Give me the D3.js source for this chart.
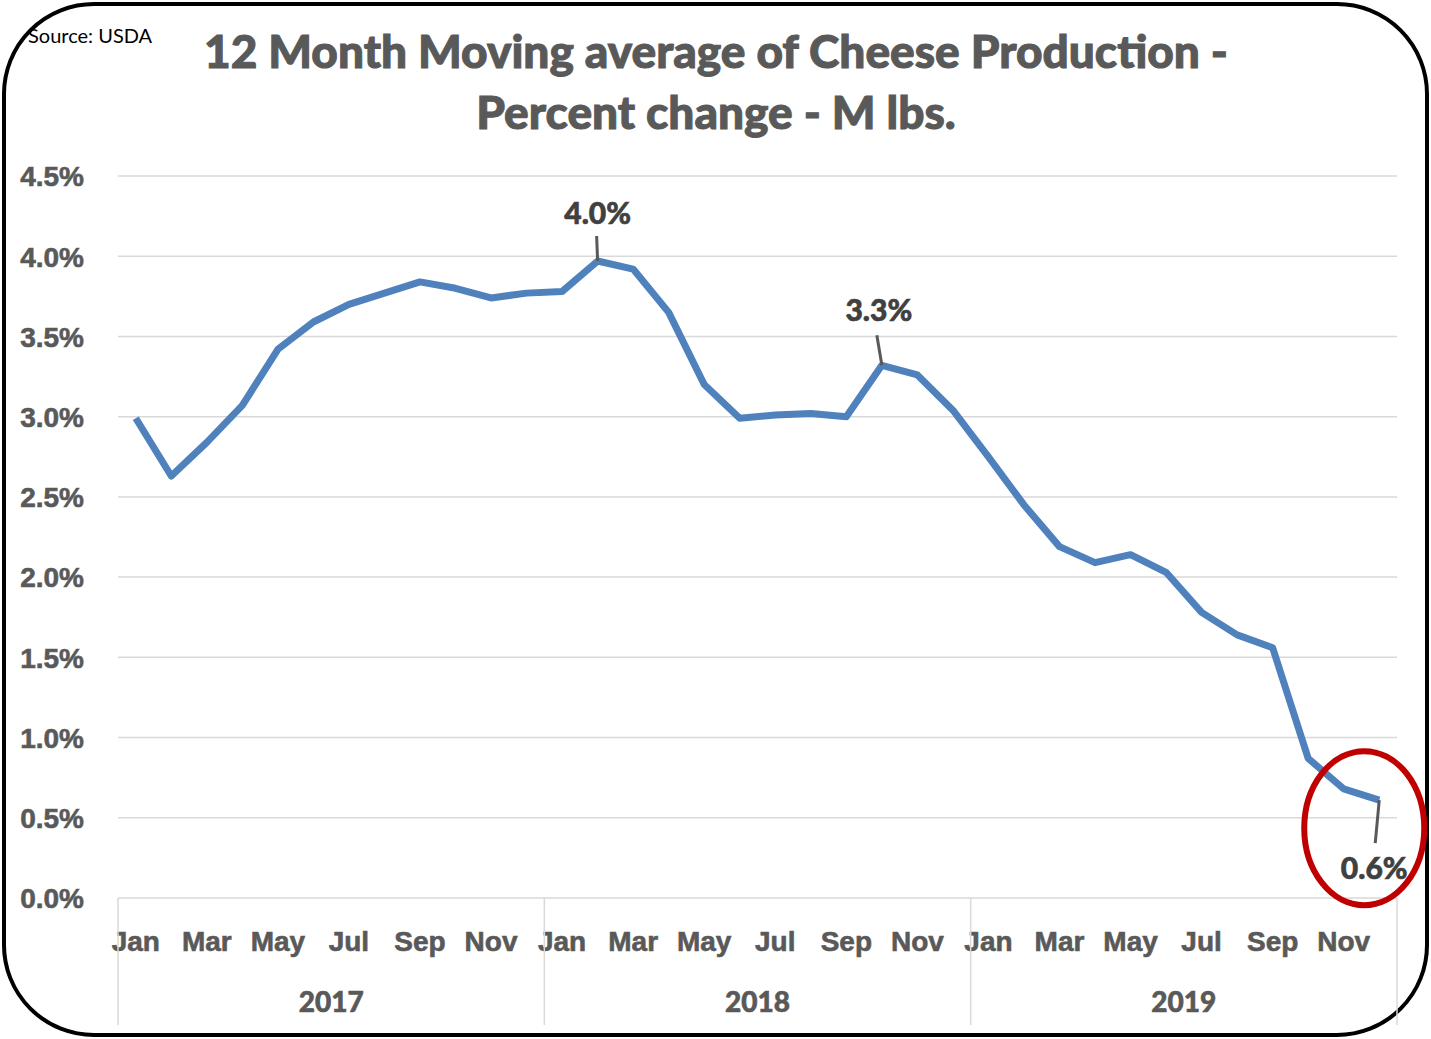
<!DOCTYPE html>
<html lang="en">
<head>
  <meta charset="UTF-8" />
  <title>12 Month Moving average of Cheese Production</title>
  <script src="https://d3js.org/d3.v7.min.js"></script>
  <style>
    body { margin: 0; background: #fff; font-family: Lato, "Open Sans", sans-serif; }
    .tick-label { font-size: 28px; font-weight: 900; fill: #595959; stroke: #595959; stroke-width: 0.6px; }
    .data-label { font-size: 30px; font-weight: 900; fill: #404040; stroke: #404040; stroke-width: 0.6px; }
  </style>
</head>
<body>
<svg width="1431" height="1039"></svg>

<script>
  const years = ["2017", "2018", "2019"];
  const months = ["Jan", "Feb", "Mar", "Apr", "May", "Jun", "Jul", "Aug", "Sep", "Oct", "Nov", "Dec"];
  const values = [
    2.99, 2.63, 2.84, 3.07, 3.42, 3.59, 3.70, 3.77, 3.84, 3.80, 3.74, 3.77,
    3.78, 3.97, 3.92, 3.65, 3.20, 2.99, 3.01, 3.02, 3.00, 3.32, 3.26, 3.04,
    2.75, 2.45, 2.19, 2.09, 2.14, 2.03, 1.78, 1.64, 1.56, 0.87, 0.68, 0.61
  ];
  const yTicks = [0, 0.5, 1, 1.5, 2, 2.5, 3, 3.5, 4, 4.5];
  const labelled = [13, 21, 35]; // points with data labels

  const svg = d3.select("svg");
  const margin = { top: 176, left: 118, right: 34, bottom: 141 };
  const width = 1431 - margin.left - margin.right,
        height = 1039 - margin.top - margin.bottom;

  // frame
  svg.append("rect")
    .attr("x", 4).attr("y", 4).attr("width", 1423).attr("height", 1031)
    .attr("rx", 90).attr("ry", 90)
    .attr("fill", "none").attr("stroke", "#000").attr("stroke-width", 4);

  svg.append("text")
    .attr("x", 28).attr("y", 43)
    .attr("font-size", 20).attr("fill", "#000")
    .text("Source: USDA");

  const title = svg.append("text")
    .attr("text-anchor", "middle")
    .attr("font-size", 46).attr("font-weight", 900)
    .attr("fill", "#595959").attr("stroke", "#595959").attr("stroke-width", 1);
  title.append("tspan").attr("x", 716).attr("y", 68).text("12 Month Moving average of Cheese Production -");
  title.append("tspan").attr("x", 716).attr("y", 129).text("Percent change - M lbs.");

  const g = svg.append("g").attr("transform", `translate(${margin.left},${margin.top})`);

  const keys = d3.range(values.length);
  const x = d3.scaleBand().domain(keys).range([0, width]);
  const y = d3.scaleLinear().domain([0, 4.5]).range([height, 0]);

  // gridlines
  g.append("g")
    .selectAll("line")
    .data(yTicks)
    .join("line")
    .attr("x1", 0).attr("x2", width)
    .attr("y1", d => y(d)).attr("y2", d => y(d))
    .attr("stroke", "#d9d9d9").attr("stroke-width", 1.5);

  // y axis labels
  const yAxis = g.append("g")
    .call(d3.axisLeft(y).tickValues(yTicks).tickSize(0).tickPadding(34)
      .tickFormat(d => d3.format(".1f")(d) + "%"));
  yAxis.select(".domain").remove();
  yAxis.selectAll("text").attr("class", "tick-label").attr("font-family", null).attr("dy", "0.35em");

  // category axis: month labels
  const xAxis = g.append("g")
    .attr("transform", `translate(0,${height})`)
    .call(d3.axisBottom(x).tickSize(0).tickPadding(33)
      .tickFormat(i => i % 2 === 0 ? months[i % 12] : ""));
  xAxis.select(".domain").remove();
  xAxis.selectAll("text").attr("class", "tick-label").attr("font-family", null);

  // year separators and labels
  const sep = d3.range(years.length + 1).map(k => k === years.length ? width : x(k * 12));
  g.append("g")
    .selectAll("line")
    .data(sep)
    .join("line")
    .attr("x1", d => d).attr("x2", d => d)
    .attr("y1", height).attr("y2", height + 127)
    .attr("stroke", "#d9d9d9").attr("stroke-width", 1.5);

  g.append("g")
    .selectAll("text")
    .data(years)
    .join("text")
    .attr("class", "tick-label")
    .attr("text-anchor", "middle")
    .attr("x", (d, k) => (sep[k] + sep[k + 1]) / 2)
    .attr("y", height + 114)
    .text(d => d);

  // line
  const cx = i => x(i) + x.bandwidth() / 2;
  g.append("path")
    .datum(values)
    .attr("fill", "none")
    .attr("stroke", "#4f81bd")
    .attr("stroke-width", 7)
    .attr("stroke-linejoin", "round")
    .attr("d", d3.line().x((d, i) => cx(i)).y(d => y(d)));

  // data labels with leader lines
  const labelPos = {
    13: { dx: 0, ty: -37, lx: -1, ly: -25 },
    21: { dx: -3, ty: -44, lx: -5, ly: -30 },
    35: { dx: -5, ty: 79, lx: -4, ly: 43 }
  };
  labelled.forEach(i => {
    const p = labelPos[i];
    const px = cx(i), py = y(values[i]);
    g.append("line")
      .attr("x1", px).attr("y1", py)
      .attr("x2", px + p.lx).attr("y2", py + p.ly)
      .attr("stroke", "#595959").attr("stroke-width", 3);
    g.append("text")
      .attr("class", "data-label")
      .attr("text-anchor", "middle")
      .attr("x", px + p.dx)
      .attr("y", py + p.ty)
      .text(d3.format(".1f")(values[i]) + "%");
  });

  // highlight ellipse round the last value
  g.append("ellipse")
    .attr("cx", cx(35) - 15)
    .attr("cy", y(values[35]) + 28)
    .attr("rx", 60).attr("ry", 77)
    .attr("fill", "none")
    .attr("stroke", "#c00000")
    .attr("stroke-width", 6);
</script>
</body>
</html>
